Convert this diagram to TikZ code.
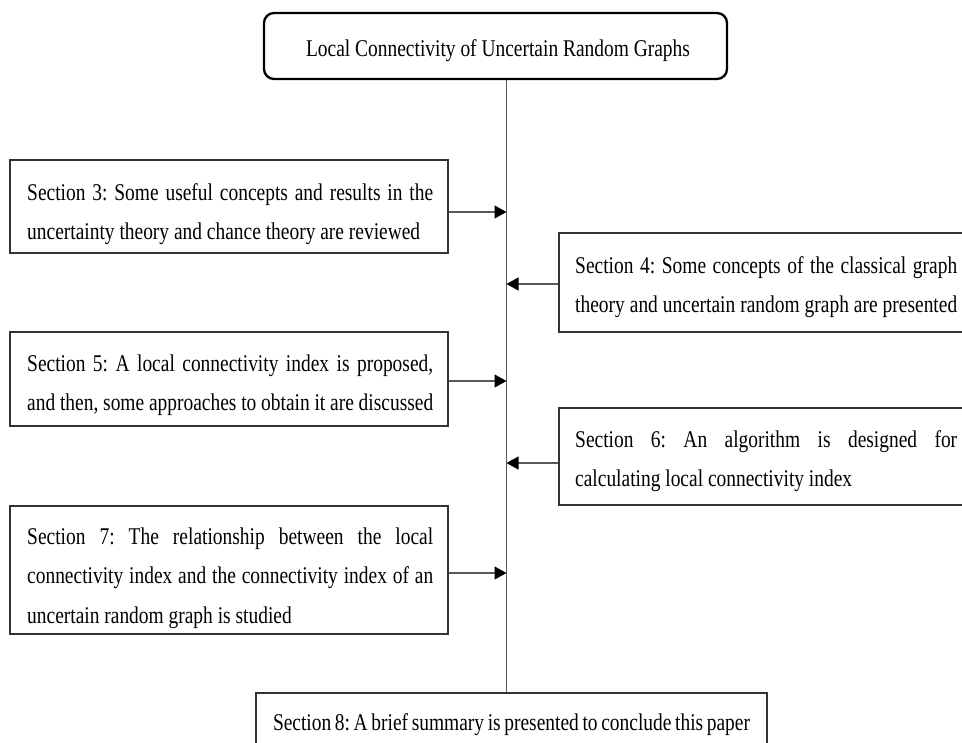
\documentclass[tikz,border=0pt]{standalone}
\usepackage{fontspec}
\setmainfont{Liberation Serif}[FakeStretch=0.81]
\usetikzlibrary{arrows.meta}
\frenchspacing
\begin{document}
\begin{tikzpicture}[x=1pt,y=-1pt,
  txt/.style={font=\fontsize{24}{38.5}\selectfont,inner sep=0pt,align=left},
  secbox/.style={draw=black!80,line width=1.4pt,rectangle,inner sep=0pt},
  titlebox/.style={draw=black,line width=2.3pt,rounded corners=10pt,inner sep=0pt},
  conn/.style={draw=black!65,line width=1.1pt},
  arr/.style={conn,-{Triangle[length=12pt,width=13pt,color=black]}}
]
\clip (0,0) rectangle (962,743);
\fill[white] (0,0) rectangle (962,743);

% boxes
\node[titlebox,minimum width=463pt,minimum height=66pt] (title) at (495.5,46) {};
\node[secbox,minimum width=438pt,minimum height=93pt]  (b3) at (229,206.5) {};
\node[secbox,minimum width=414pt,minimum height=99pt]  (b4) at (766,282.5) {};
\node[secbox,minimum width=438pt,minimum height=94pt]  (b5) at (229,379) {};
\node[secbox,minimum width=414pt,minimum height=97pt]  (b6) at (766,456.5) {};
\node[secbox,minimum width=438pt,minimum height=128pt] (b7) at (229,570) {};
\node[secbox,minimum width=511pt,minimum height=60pt]  (b8) at (511.5,723) {};

% texts
\node[txt] (t0) at (498,51) {Local Connectivity of Uncertain Random Graphs};
\node[txt,anchor=west] (t3) at (27,214)
  {\makebox[406pt][s]{Section 3: Some useful concepts and results in the}\\uncertainty theory and chance theory are reviewed};
\node[txt,anchor=west] (t4) at (575,287)
  {\makebox[382pt][s]{Section 4: Some concepts of the classical graph}\\\makebox[382pt][s]{theory and uncertain random graph are presented}};
\node[txt,anchor=west] (t5) at (27,385)
  {\makebox[406pt][s]{Section 5: A local connectivity index is proposed,}\\\makebox[406pt][s]{and then, some approaches to obtain it are discussed}};
\node[txt,anchor=west] (t6) at (575,461)
  {\makebox[382pt][s]{Section 6: An algorithm is designed for}\\calculating local connectivity index};
\node[txt,anchor=west,font=\fontsize{24}{39.5}\selectfont] (t7) at (27,578)
  {\makebox[406pt][s]{Section 7: The relationship between the local}\\\makebox[406pt][s]{connectivity index and the connectivity index of an}\\uncertain random graph is studied};
\node[txt] (t8) at (511.5,725)
  {\makebox[477pt][s]{Section 8: A brief summary is presented to conclude this paper}};

% spine
\coordinate (s) at (506.5,0);
\draw[conn] (title.south -| s) -- (b8.north -| s);

% arrows
\draw[arr] ([yshift=-5.5pt]b3.east) -- ([yshift=-5.5pt]b3.east -| s);
\draw[arr] ([yshift=-1.5pt]b4.west) -- ([yshift=-1.5pt]b4.west -| s);
\draw[arr] ([yshift=-2pt]b5.east)   -- ([yshift=-2pt]b5.east -| s);
\draw[arr] ([yshift=-6.5pt]b6.west) -- ([yshift=-6.5pt]b6.west -| s);
\draw[arr] ([yshift=-3pt]b7.east)   -- ([yshift=-3pt]b7.east -| s);
\end{tikzpicture}
\end{document}
